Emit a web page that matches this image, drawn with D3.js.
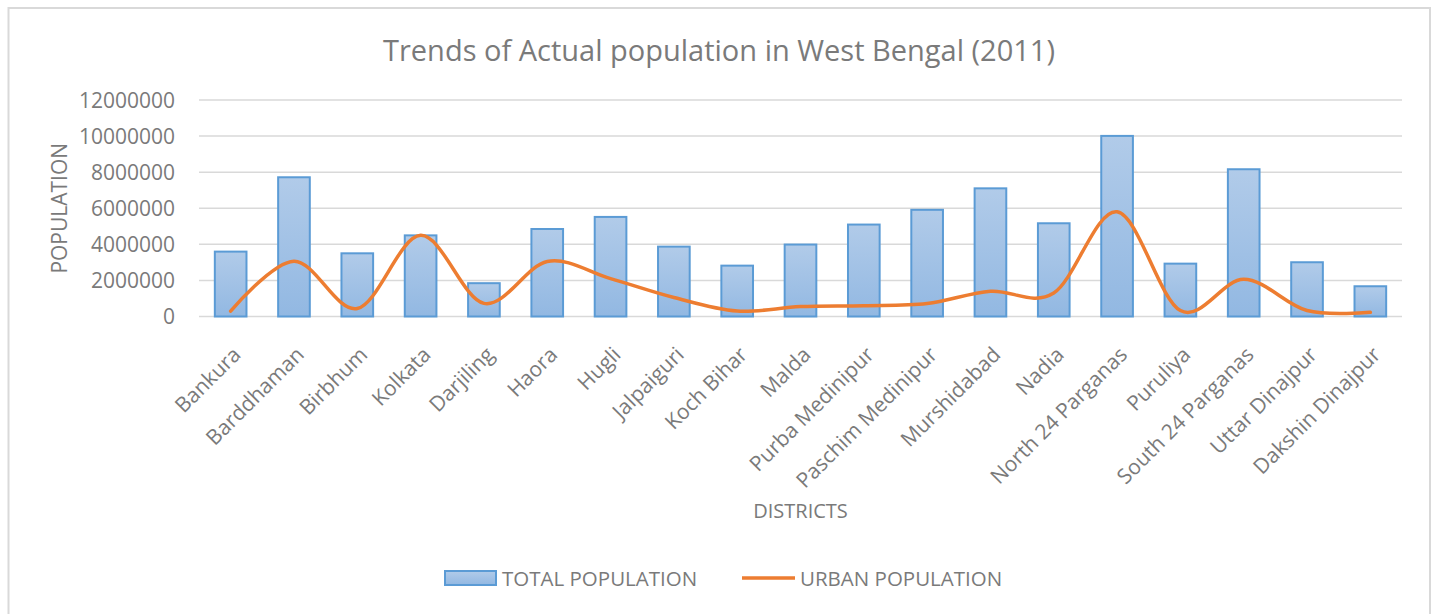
<!DOCTYPE html>
<html>
<head>
<meta charset="utf-8">
<script src="https://cdn.jsdelivr.net/npm/d3@7"></script>
<style>
  html, body { margin: 0; padding: 0; background: #fff; }
  svg { display: block; }
  text { font-family: "Open Sans", "Noto Sans", sans-serif; fill: #7a7a7a; }
</style>
</head>
<body>
<svg id="chart" width="1439" height="614"></svg>
<script>
const districts = ["Bankura","Barddhaman","Birbhum","Kolkata","Darjiling","Haora","Hugli","Jalpaiguri","Koch Bihar","Malda","Purba Medinipur","Paschim Medinipur","Murshidabad","Nadia","North 24 Parganas","Puruliya","South 24 Parganas","Uttar Dinajpur","Dakshin Dinajpur"];
const totalPopulation = [3596674,7717563,3502404,4496694,1846823,4850029,5519145,3872846,2819086,3988845,5095875,5913457,7103807,5167600,10009781,2930115,8161961,3007134,1676276];
const urbanPopulation = [300000,3066000,442000,4496694,728000,3049000,2100000,1054000,300000,550000,600000,720000,1400000,1300000,5800000,330000,2060000,330000,235000];
const yTicks = [0,2000000,4000000,6000000,8000000,10000000,12000000];

const svg = d3.select("#chart");
const plot = {left: 199, right: 1402, top: 100, bottom: 316.5};

// chart border
svg.append("rect").attr("x", 8.5).attr("y", 8).attr("width", 1421.5).attr("height", 620)
  .attr("fill", "#fff").attr("stroke", "#d9d9d9").attr("stroke-width", 2);

const x = d3.scaleBand().domain(districts).range([plot.left, plot.right]).paddingInner(0.5).paddingOuter(0.25);
const xc = d => x(d) + x.bandwidth() / 2;
const y = d3.scaleLinear().domain([0, 12000000]).range([plot.bottom, plot.top]);

// gridlines
svg.append("g").selectAll("line").data(yTicks).join("line")
  .attr("x1", plot.left).attr("x2", plot.right)
  .attr("y1", d => y(d)).attr("y2", d => y(d))
  .attr("stroke", "#d9d9d9").attr("stroke-width", 1.5);

// y axis
const yAxis = d3.axisLeft(y).tickValues(yTicks).tickFormat(d3.format("d")).tickSize(0).tickPadding(0);
const yg = svg.append("g").attr("transform", `translate(${plot.left - 24},0)`).call(yAxis);
yg.select(".domain").remove();
yg.selectAll("text").style("font-size", "21px").attr("fill", "#7a7a7a").attr("dy", "0.35em");

// gradient
const defs = svg.append("defs");
const grad = defs.append("linearGradient").attr("id", "barGrad").attr("x1", 0).attr("y1", 0).attr("x2", 0).attr("y2", 1);
grad.append("stop").attr("offset", "0%").attr("stop-color", "#b1cbe9");
grad.append("stop").attr("offset", "100%").attr("stop-color", "#92b8e2");

// bars
svg.append("g").selectAll("rect").data(districts).join("rect")
  .attr("x", d => x(d))
  .attr("y", (d, i) => y(totalPopulation[i]))
  .attr("width", x.bandwidth())
  .attr("height", (d, i) => y(0) - y(totalPopulation[i]))
  .attr("fill", "url(#barGrad)")
  .attr("stroke", "#5b9bd5").attr("stroke-width", 2);

// urban line
const line = d3.line().x((d, i) => xc(districts[i])).y(d => y(d)).curve(d3.curveCatmullRom.alpha(0));
svg.append("path").datum(urbanPopulation).attr("d", line)
  .attr("fill", "none").attr("stroke", "#ed7d31").attr("stroke-width", 3.5).attr("stroke-linecap", "round");

// x labels
svg.append("g").selectAll("text").data(districts).join("text")
  .attr("transform", d => `translate(${xc(d) + 1},${plot.bottom + 29}) rotate(-45)`)
  .attr("text-anchor", "end").attr("dy", "0.7em")
  .style("font-size", "21px").text(d => d);

// title
svg.append("text").attr("x", 719).attr("y", 61).attr("text-anchor", "middle")
  .style("font-size", "29px").text("Trends of Actual population in West Bengal (2011)");

// axis titles
svg.append("text").attr("transform", `translate(67,${(plot.top + plot.bottom) / 2}) rotate(-90)`)
  .attr("text-anchor", "middle").style("font-size", "21px").text("POPULATION");
svg.append("text").attr("x", (plot.left + plot.right) / 2).attr("y", 518).attr("text-anchor", "middle")
  .style("font-size", "20px").text("DISTRICTS");

// legend
const lg = svg.append("g");
lg.append("rect").attr("x", 445).attr("y", 571).attr("width", 51).attr("height", 14)
  .attr("fill", "url(#barGrad)").attr("stroke", "#5b9bd5").attr("stroke-width", 2);
lg.append("text").attr("x", 502).attr("y", 586).style("font-size", "20.5px").text("TOTAL POPULATION");
lg.append("line").attr("x1", 742).attr("x2", 795).attr("y1", 578).attr("y2", 578)
  .attr("stroke", "#ed7d31").attr("stroke-width", 3.5);
lg.append("text").attr("x", 800).attr("y", 586).style("font-size", "20.5px").text("URBAN POPULATION");
</script>
</body>
</html>
